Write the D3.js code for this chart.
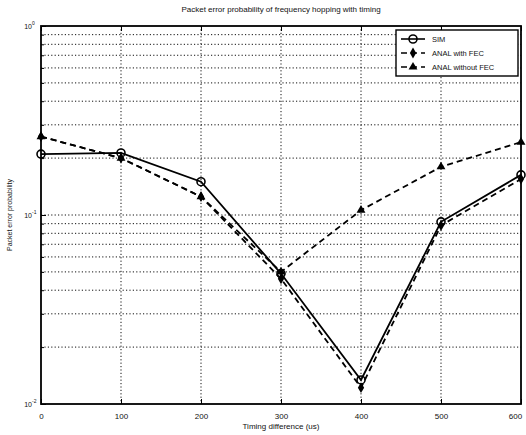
<!DOCTYPE html>
<html>
<head>
<meta charset="utf-8">
<script src="https://cdn.jsdelivr.net/npm/d3@7"></script>
<style>
  body { margin: 0; background: #fff; }
  text { font-family: "Liberation Sans", Arial, sans-serif; fill: #111; }
</style>
</head>
<body>
<div id="chart"></div>
<script>
// values
const timing = [0, 100, 200, 300, 400, 500, 600];
const simValues = [0.21, 0.213, 0.15, 0.049, 0.0134, 0.092, 0.163];
const withFec = [0.26, 0.2, 0.125, 0.046, 0.0122, 0.088, 0.155];
const withoutFec = [0.26, 0.2, 0.125, 0.05, 0.106, 0.18, 0.243];
const seriesNames = ['SIM', 'ANAL with FEC', 'ANAL without FEC'];
const xTicks = [0, 100, 200, 300, 400, 500, 600];
const yDecades = [0.01, 0.1, 1];

const W = 526, H = 435;
const margin = { top: 26, right: 5, bottom: 31, left: 41 };
const width = W - margin.left - margin.right;
const height = H - margin.top - margin.bottom;

const svg = d3.select('#chart').append('svg')
  .attr('width', W)
  .attr('height', H);

const g = svg.append('g')
  .attr('transform', `translate(${margin.left},${margin.top})`);

const x = d3.scaleLinear().domain([0, 600]).range([0, width]);
const y = d3.scaleLog().domain([0.01, 1]).range([height, 0]);

// minor log grid values
const minor = [];
[0.01, 0.1].forEach(d => { for (let k = 1; k <= 9; k++) minor.push(d * k); });
minor.push(1);

g.selectAll('.hgrid')
  .data(minor.filter(v => v > 0.01 && v < 1))
  .enter().append('line')
  .attr('x1', 0).attr('x2', width)
  .attr('y1', d => y(d)).attr('y2', d => y(d))
  .attr('stroke', '#111')
  .attr('stroke-width', 1)
  .attr('stroke-dasharray', '1.2,2.2');

g.selectAll('.vgrid')
  .data(xTicks.filter(v => v > 0 && v < 600))
  .enter().append('line')
  .attr('y1', 0).attr('y2', height)
  .attr('x1', d => x(d)).attr('x2', d => x(d))
  .attr('stroke', '#111')
  .attr('stroke-width', 1)
  .attr('stroke-dasharray', '1.2,2.2');

// axes with inward ticks
const xAxis = g.append('g')
  .attr('transform', `translate(0,${height})`)
  .call(d3.axisBottom(x).tickValues(xTicks).tickSize(-5).tickPadding(9).tickFormat(d3.format('d')))
  .call(a => a.select('.domain').remove());
xAxis.selectAll('text').style('font-size', '8px');
// last label sits against the page edge
xAxis.selectAll('.tick').filter(d => d === 600).select('text').attr('dx', -6);

g.append('g')
  .call(d3.axisTop(x).tickValues(xTicks).tickSize(-5).tickFormat(''))
  .call(a => a.select('.domain').remove());

const yAxis = g.append('g')
  .call(d3.axisLeft(y).tickValues(yDecades).tickSize(-5).tickFormat(''))
  .call(a => a.select('.domain').remove());
g.append('g')
  .call(d3.axisLeft(y).tickValues(minor.filter(v => !yDecades.includes(v))).tickSize(-3).tickFormat(''))
  .call(a => a.select('.domain').remove());

yAxis.selectAll('.tick').append('text')
  .attr('x', -9).attr('y', 2)
  .attr('text-anchor', 'end')
  .style('font-size', '7px')
  .text('10');
yAxis.selectAll('.tick').append('text')
  .attr('x', -9).attr('y', -2)
  .attr('text-anchor', 'start')
  .style('font-size', '5px')
  .text(d => Math.round(Math.log10(d)));

// frame
g.append('rect')
  .attr('width', width).attr('height', height)
  .attr('fill', 'none')
  .attr('stroke', '#000')
  .attr('stroke-width', 1.8);

const series = [
  { name: seriesNames[0], values: simValues, dash: null, marker: 'circle' },
  { name: seriesNames[1], values: withFec, dash: '6,4', marker: 'diamond' },
  { name: seriesNames[2], values: withoutFec, dash: '6,4', marker: 'triangle' }
];

const line = d3.line()
  .x((d, i) => x(timing[i]))
  .y(d => y(d));

series.forEach(s => {
  g.append('path')
    .datum(s.values)
    .attr('d', line)
    .attr('fill', 'none')
    .attr('stroke', '#000')
    .attr('stroke-width', 1.8)
    .attr('stroke-dasharray', s.dash);
});

function drawMarker(sel, s) {
  if (s.marker === 'circle') {
    sel.append('circle').attr('r', 4)
      .attr('fill', 'none').attr('stroke', '#000').attr('stroke-width', 1.6);
  } else {
    sel.append('path')
      .attr('d', d3.symbol().type(s.marker === 'diamond' ? d3.symbolDiamond : d3.symbolTriangle).size(34)())
      .attr('fill', '#000');
  }
}

series.forEach(s => {
  s.values.forEach((v, i) => {
    const m = g.append('g').attr('transform', `translate(${x(timing[i])},${y(v)})`);
    drawMarker(m, s);
  });
});

// legend
const leg = g.append('g').attr('transform', `translate(${width - 125},4)`);
leg.append('rect')
  .attr('width', 122).attr('height', 46)
  .attr('fill', '#fff')
  .attr('stroke', '#000').attr('stroke-width', 1.4);
series.forEach((s, i) => {
  const row = leg.append('g').attr('transform', `translate(0,${9 + i * 14})`);
  row.append('line')
    .attr('x1', 5).attr('x2', 29)
    .attr('stroke', '#000').attr('stroke-width', 1.6)
    .attr('stroke-dasharray', s.dash);
  drawMarker(row.append('g').attr('transform', 'translate(17,0)'), s);
  row.append('text')
    .attr('x', 36).attr('y', 3)
    .style('font-size', '7.5px')
    .text(s.name);
});

// titles
svg.append('text')
  .attr('x', margin.left + width / 2).attr('y', 12)
  .attr('text-anchor', 'middle')
  .style('font-size', '8px')
  .text('Packet error probability of frequency hopping with timing');

svg.append('text')
  .attr('x', margin.left + width / 2).attr('y', 429)
  .attr('text-anchor', 'middle')
  .style('font-size', '8px')
  .text('Timing difference (us)');

svg.append('text')
  .attr('transform', `translate(12,${margin.top + height / 2}) rotate(-90)`)
  .attr('text-anchor', 'middle')
  .style('font-size', '7px')
  .text('Packet error probability');
</script>
</body>
</html>
